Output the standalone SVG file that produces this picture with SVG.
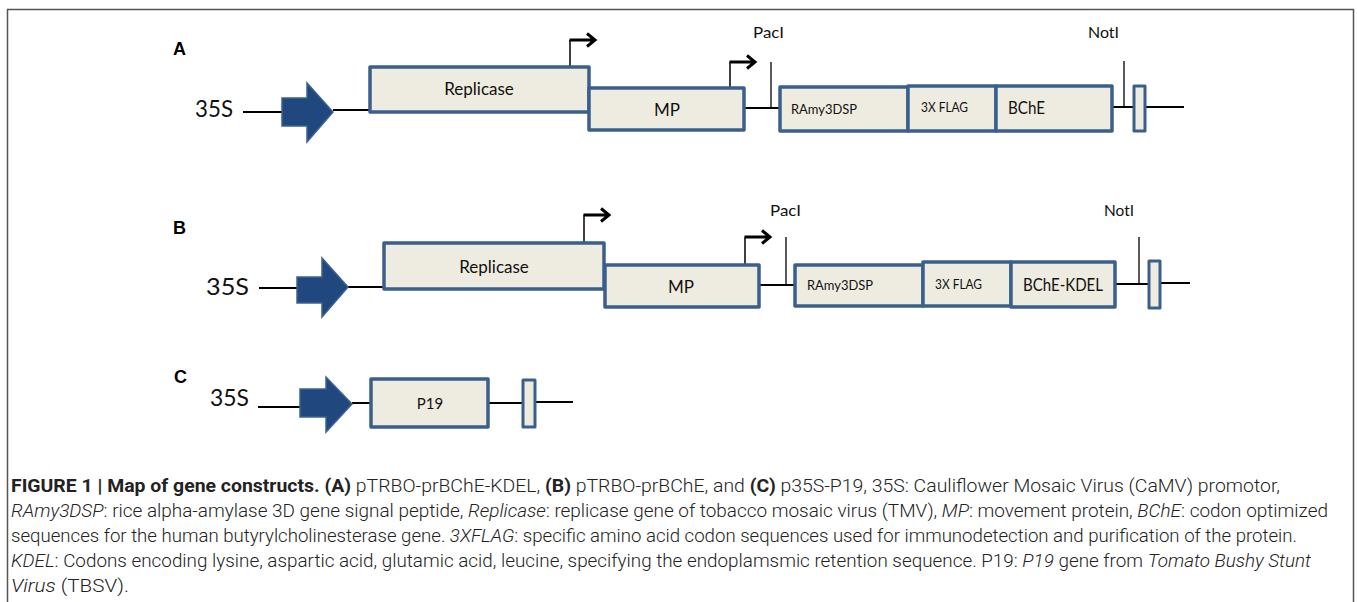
<svg xmlns="http://www.w3.org/2000/svg" width="1357" height="602" viewBox="0 0 1357 602">
<style>
.box{fill:#eeece1;stroke:#3a5f8c;stroke-width:3.5;stroke-linejoin:round}
.prom{fill:#21487e;stroke:#3d6193;stroke-width:1.5;stroke-linejoin:miter}
.bb{stroke:#000;stroke-width:2;fill:none}
.site{stroke:#000;stroke-width:1.3;fill:none}
.tss{stroke:#000;stroke-width:1.5;fill:none}
.tssh{stroke:#000;stroke-width:3;fill:none;stroke-linejoin:miter}
.lbl{font-family:Lato,"Open Sans",sans-serif;fill:#111}
.pan{font-family:"Liberation Sans",Arial,sans-serif;font-weight:bold;font-size:18px;fill:#000}
.cap{font-family:Roboto,"Liberation Sans",sans-serif;font-weight:300;font-size:18px;fill:#222}
.b{font-weight:700}
.i{font-style:italic}
</style>
<path d="M7.5 602 V9.5 H1353.5 V602" fill="none" stroke="#555" stroke-width="1.5"/>

<g id="connectors">
  <!-- A -->
  <line class="bb" x1="243" y1="112" x2="283" y2="112"/>
  <line class="bb" x1="333" y1="110" x2="371" y2="110"/>
  <line class="bb" x1="744" y1="108" x2="780" y2="108"/>
  <line class="bb" x1="1112" y1="107" x2="1134" y2="107"/>
  <line class="bb" x1="1145" y1="107" x2="1184" y2="107"/>
  <line class="site" x1="771" y1="62" x2="771" y2="108"/>
  <line class="site" x1="1124" y1="61" x2="1124" y2="107"/>
  <path class="tss" d="M570 67 V40"/>
  <path class="tssh" d="M569.5 40 H595 M587 33.5 L595 40 L587 46.5"/>
  <path class="tss" d="M730 88 V62"/>
  <path class="tssh" d="M729.5 62 H755 M747 55.5 L755 62 L747 68.5"/>
  <!-- B -->
  <line class="bb" x1="259" y1="288" x2="298" y2="288"/>
  <line class="bb" x1="348" y1="287" x2="385" y2="287"/>
  <line class="bb" x1="759" y1="285" x2="795" y2="285"/>
  <line class="bb" x1="1115" y1="284" x2="1148" y2="284"/>
  <line class="bb" x1="1160" y1="283" x2="1190" y2="283"/>
  <line class="site" x1="786" y1="237" x2="786" y2="285"/>
  <line class="site" x1="1139" y1="237" x2="1139" y2="284"/>
  <path class="tss" d="M584 243 V215"/>
  <path class="tssh" d="M583.5 215 H609 M601 208.5 L609 215 L601 221.5"/>
  <path class="tss" d="M745 265 V237"/>
  <path class="tssh" d="M744.5 237 H770 M762 230.5 L770 237 L762 243.5"/>
  <!-- C -->
  <line class="bb" x1="258" y1="407" x2="301" y2="407"/>
  <line class="bb" x1="352" y1="403" x2="371" y2="403"/>
  <line class="bb" x1="488" y1="403" x2="523" y2="403"/>
  <line class="bb" x1="535" y1="402" x2="573" y2="402"/>
</g>

<!-- Panel A -->
<text class="pan" x="173" y="55">A</text>
<g id="A-35S">
  <text class="lbl" x="195" y="117" font-size="24" textLength="38" lengthAdjust="spacingAndGlyphs">35S</text>
  <polygon class="prom" points="282,98 307,98 307,83 333,112 307,142 307,126 282,126"/>
</g>
<g id="A-replicase">
  <rect class="box" x="370" y="67" width="219" height="45"/>
  <text class="lbl" x="479" y="95" font-size="17" text-anchor="middle">Replicase</text>
</g>
<g id="A-mp">
  <rect class="box" x="589" y="88" width="155" height="42"/>
  <text class="lbl" x="667" y="116" font-size="17" text-anchor="middle">MP</text>
</g>
<g id="A-paci"><text class="lbl" x="753" y="38" font-size="15" textLength="31" lengthAdjust="spacingAndGlyphs">PacI</text></g>
<g id="A-ramy">
  <rect class="box" x="780" y="87" width="128" height="44"/>
  <text class="lbl" x="791" y="114" font-size="13" textLength="66" lengthAdjust="spacingAndGlyphs">RAmy3DSP</text>
</g>
<g id="A-flag">
  <rect class="box" x="908" y="86" width="88" height="45"/>
  <text class="lbl" x="921" y="112" font-size="13" textLength="47" lengthAdjust="spacingAndGlyphs">3X FLAG</text>
</g>
<g id="A-bche">
  <rect class="box" x="996" y="86" width="116" height="45"/>
  <text class="lbl" x="1008" y="114" font-size="17" textLength="37" lengthAdjust="spacingAndGlyphs">BChE</text>
</g>
<g id="A-noti"><text class="lbl" x="1088" y="38" font-size="15" textLength="31" lengthAdjust="spacingAndGlyphs">NotI</text></g>
<g id="A-term"><rect class="box" x="1134" y="86" width="11" height="45" style="stroke-width:3"/></g>

<!-- Panel B -->
<text class="pan" x="173" y="234">B</text>
<g id="B-35S">
  <text class="lbl" x="206" y="295" font-size="24" textLength="43" lengthAdjust="spacingAndGlyphs">35S</text>
  <polygon class="prom" points="297,277 322,277 322,258 348,287 322,317 322,303 297,303"/>
</g>
<g id="B-replicase">
  <rect class="box" x="384" y="243" width="220" height="46"/>
  <text class="lbl" x="494" y="273" font-size="17" text-anchor="middle">Replicase</text>
</g>
<g id="B-mp">
  <rect class="box" x="605" y="265" width="154" height="42"/>
  <text class="lbl" x="681" y="293" font-size="17" text-anchor="middle">MP</text>
</g>
<g id="B-paci"><text class="lbl" x="770" y="216" font-size="15" textLength="31" lengthAdjust="spacingAndGlyphs">PacI</text></g>
<g id="B-ramy">
  <rect class="box" x="795" y="265" width="128" height="41"/>
  <text class="lbl" x="807" y="290" font-size="13" textLength="66" lengthAdjust="spacingAndGlyphs">RAmy3DSP</text>
</g>
<g id="B-flag">
  <rect class="box" x="923" y="262" width="88" height="44"/>
  <text class="lbl" x="935" y="289" font-size="13" textLength="47" lengthAdjust="spacingAndGlyphs">3X FLAG</text>
</g>
<g id="B-bche-kdel">
  <rect class="box" x="1011" y="262" width="104" height="45"/>
  <text class="lbl" x="1023" y="291" font-size="17" textLength="80" lengthAdjust="spacingAndGlyphs">BChE-KDEL</text>
</g>
<g id="B-noti"><text class="lbl" x="1104" y="216" font-size="15" textLength="30" lengthAdjust="spacingAndGlyphs">NotI</text></g>
<g id="B-term"><rect class="box" x="1149" y="261" width="11" height="47" style="stroke-width:3"/></g>

<!-- Panel C -->
<text class="pan" x="174" y="383">C</text>
<g id="C-35S">
  <text class="lbl" x="210" y="406" font-size="24" textLength="39" lengthAdjust="spacingAndGlyphs">35S</text>
  <polygon class="prom" points="300,389 326,389 326,377 352,404 326,432 326,417 300,417"/>
</g>
<g id="C-p19">
  <rect class="box" x="371" y="379" width="117" height="48"/>
  <text class="lbl" x="430" y="409" font-size="15" text-anchor="middle">P19</text>
</g>
<g id="C-term"><rect class="box" x="523" y="380" width="12" height="47" style="stroke-width:3"/></g>

<!-- Caption -->
<g id="caption">
<text class="cap" x="11" y="492" textLength="1269" lengthAdjust="spacingAndGlyphs"><tspan class="b">FIGURE 1 | Map of gene constructs. (A)</tspan> pTRBO-prBChE-KDEL, <tspan class="b">(B)</tspan> pTRBO-prBChE, and <tspan class="b">(C)</tspan> p35S-P19, 35S: Cauliflower Mosaic Virus (CaMV) promotor,</text>
<text class="cap" x="11" y="517" textLength="1317" lengthAdjust="spacingAndGlyphs"><tspan class="i">RAmy3DSP</tspan>: rice alpha-amylase 3D gene signal peptide, <tspan class="i">Replicase</tspan>: replicase gene of tobacco mosaic virus (TMV), <tspan class="i">MP</tspan>: movement protein, <tspan class="i">BChE</tspan>: codon optimized</text>
<text class="cap" x="11" y="542" textLength="1286" lengthAdjust="spacingAndGlyphs">sequences for the human butyrylcholinesterase gene. <tspan class="i">3XFLAG</tspan>: specific amino acid codon sequences used for immunodetection and purification of the protein.</text>
<text class="cap" x="11" y="567" textLength="1300" lengthAdjust="spacingAndGlyphs"><tspan class="i">KDEL</tspan>: Codons encoding lysine, aspartic acid, glutamic acid, leucine, specifying the endoplamsmic retention sequence. P19: <tspan class="i">P19</tspan> gene from <tspan class="i">Tomato Bushy Stunt</tspan></text>
<text class="cap" x="11" y="592" textLength="118" lengthAdjust="spacingAndGlyphs"><tspan class="i">Virus</tspan> (TBSV).</text>
</g>
</svg>
